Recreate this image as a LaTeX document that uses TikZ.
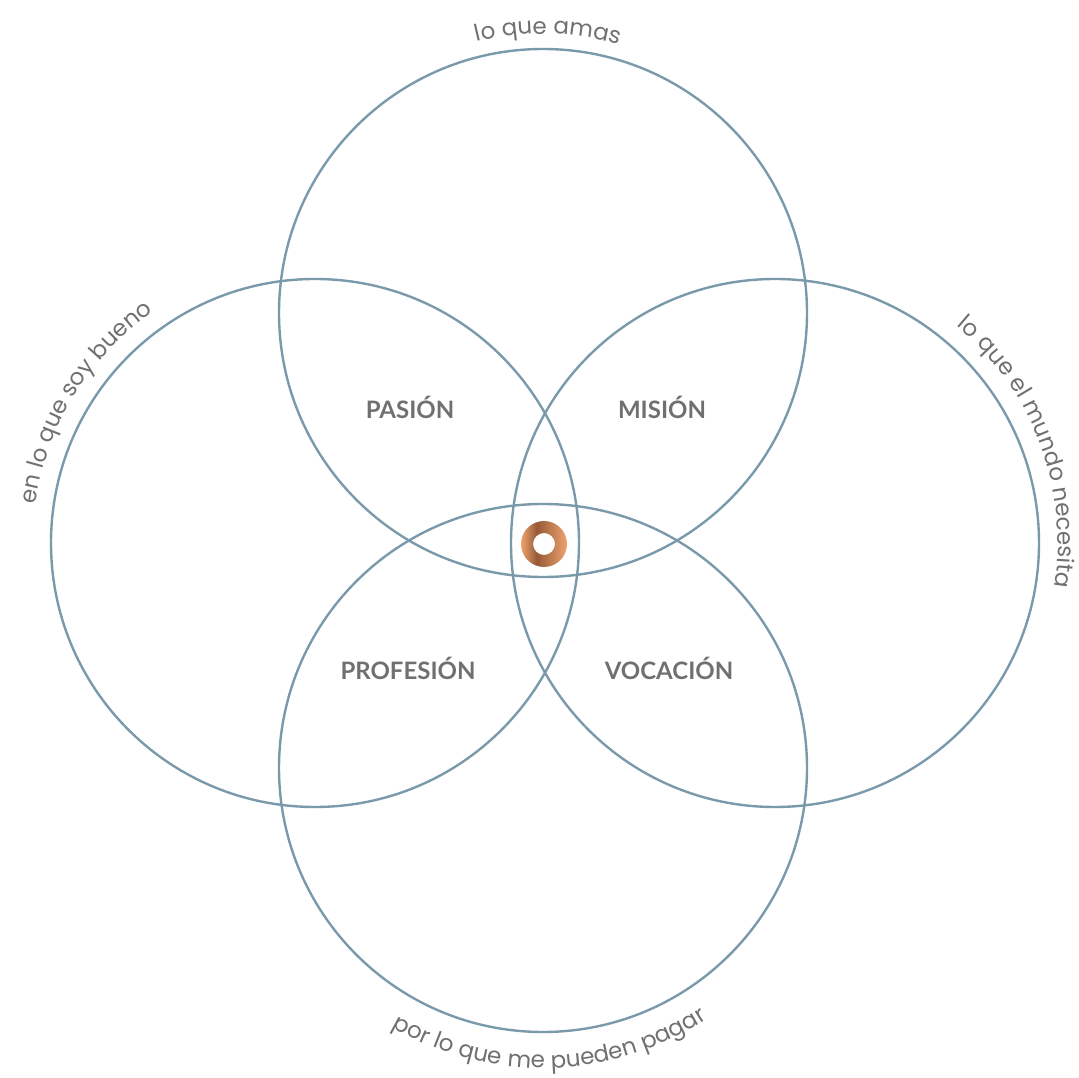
\documentclass[tikz,border=0pt]{standalone}
\usepackage{fontspec}
\setmainfont{Lato}
\newfontfamily\arcfont{Poppins}
\usepackage{tikz}
\usetikzlibrary{decorations.text}
\definecolor{lblue}{RGB}{122,154,172}
\definecolor{lgrey}{RGB}{112,112,112}
\definecolor{copperlight}{RGB}{238,164,108}
\definecolor{copperdark}{RGB}{150,90,56}
\pgfdeclarehorizontalshading{copper}{100bp}{color(0bp)=(copperlight); color(25bp)=(copperlight); color(42bp)=(copperdark); color(75bp)=(copperlight); color(100bp)=(copperlight)}

\begin{document}
\begin{tikzpicture}[x=1pt,y=1pt,set/.style={circle,draw=lblue,line width=2.4pt,minimum size=528pt,inner sep=0pt},area/.style={text=lgrey,anchor=base,font=\fontsize{24}{28}\selectfont\bfseries},arc text/.style={decorate,decoration={text along path,text align=center,text={|\arcfont\fontsize{23}{26}\selectfont\color{lgrey}|#1}}}]
  \useasboundingbox (0,0) rectangle (1079,1077);
  % the four sets
  \node [set] (amas) at (543,764) {};
  \node [set] (bueno) at (315,534) {};
  \node [set] (mundo) at (775,534) {};
  \node [set] (pagar) at (543,309) {};
  % names of the sets, along their rims
  \path [arc text={lo que amas}] ([shift={(159:279)}]amas.center) arc [start angle=159,end angle=19,radius=279];
  \path [arc text={en lo que soy bueno}] ([shift={(218.5:282)}]bueno.center) arc [start angle=218.5,end angle=78.5,radius=282];
  \path [arc text={lo que el mundo necesita}] ([shift={(90.6:283)}]mundo.center) arc [start angle=90.6,end angle=-49.4,radius=283];
  \path [arc text={por lo que me pueden pagar}] ([shift={(201.5:300)}]pagar.center) arc [start angle=201.5,end angle=341.5,radius=300];
  % overlaps
  \node [area] (pasion) at (410,658) {PASIÓN};
  \node [area] (mision) at (662,658) {MISIÓN};
  \node [area] (profesion) at (408,397) {PROFESIÓN};
  \node [area] (vocacion) at (669,397) {VOCACIÓN};
  % centre mark
  \coordinate (ikigai) at (544,533);
  \shade [shading=copper,even odd rule] (ikigai) circle [radius=23pt] (ikigai) circle [radius=11pt];
\end{tikzpicture}
\end{document}
